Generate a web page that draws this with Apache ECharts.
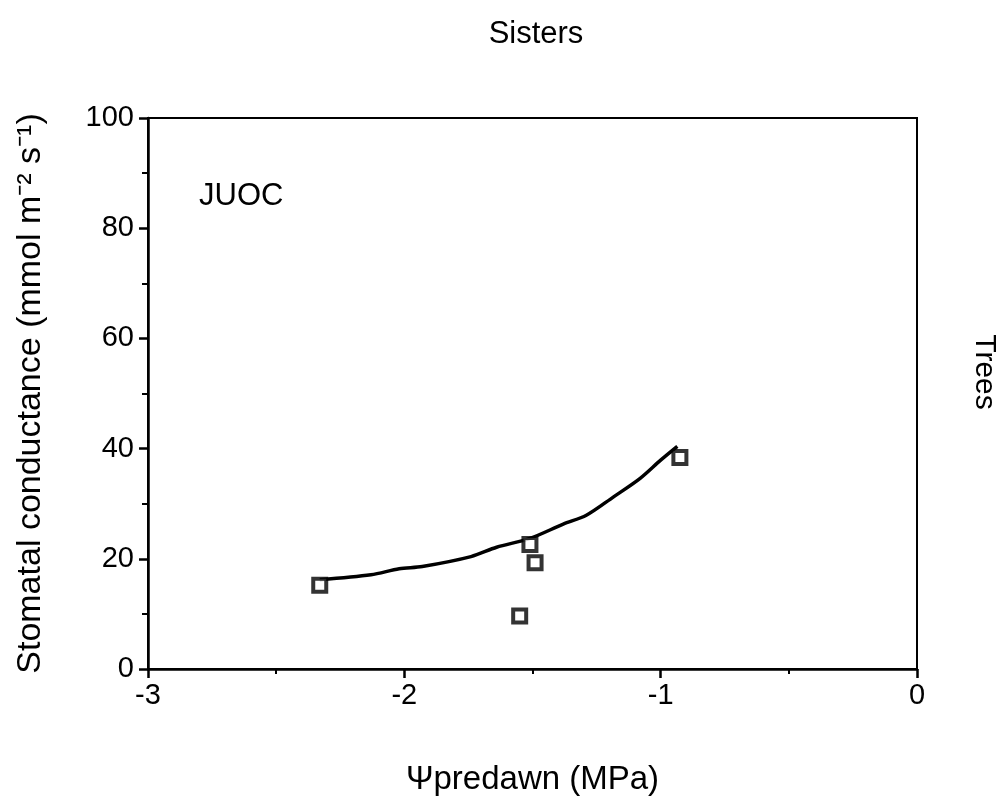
<!DOCTYPE html>
<html>
<head>
<meta charset="utf-8">
<script src="https://cdn.jsdelivr.net/npm/echarts@6/dist/echarts.min.js"></script>
<style>html,body{margin:0;padding:0;background:#fff}#c{width:1008px;height:805px}</style>
</head>
<body>
<div id="c"></div>
<script>
// Observed points (Ψpredawn, conductance)
const obsX = [-2.33, -1.51, -1.49, -1.55, -0.925];
const obsY = [15.2, 22.6, 19.3, 9.6, 38.4];
// Fitted curve
const fitX = [-2.33, -2.13, -2.02, -1.93, -1.74, -1.64, -1.51, -1.38, -1.29, -1.185, -1.08, -1.0, -0.935];
const fitY = [16.2, 17.1, 18.2, 18.6, 20.4, 22.1, 23.7, 26.3, 27.9, 31.2, 34.6, 37.9, 40.4];
const xTicks = [-3, -2, -1, 0];
const yTicks = [0, 20, 40, 60, 80, 100];

const F = 'Liberation Sans, Arial, Helvetica, sans-serif';
const chart = echarts.init(document.getElementById('c'));
chart.setOption({
  animation: false,
  backgroundColor: '#fff',
  textStyle: {fontFamily: F, color: '#000'},
  title: {
    text: 'Sisters', left: 531, top: 14, textAlign: 'center',
    textStyle: {fontFamily: F, fontSize: 31, fontWeight: 'normal', color: '#000'}
  },
  grid: {left: 148, top: 118, right: 91, bottom: 136, show: true, borderColor: '#000', borderWidth: 2, backgroundColor: 'transparent'},
  graphic: [
    {type: 'text', left: 199, top: 181, style: {text: 'JUOC', font: '31px ' + F, fill: '#000'}},
    {type: 'text', x: 984, y: 372, rotation: -Math.PI / 2, style: {text: 'Trees', font: '30px ' + F, fill: '#000', align: 'center', verticalAlign: 'middle'}}
  ],
  xAxis: {
    type: 'value', min: -3, max: 0, interval: 1,
    axisLine: {onZero: false, lineStyle: {color: '#000', width: 2.5}},
    axisTick: {length: 9, lineStyle: {color: '#000', width: 2.5}},
    minorTick: {show: true, splitNumber: 2, length: 5, lineStyle: {color: '#000', width: 2}},
    splitLine: {show: false},
    axisLabel: {fontSize: 29, color: '#000', margin: 12, fontFamily: F, formatter: v => xTicks.includes(v) ? String(v) : ''},
    name: 'Ψpredawn (MPa)', nameLocation: 'middle', nameGap: 94,
    nameTextStyle: {fontSize: 33, color: '#000', fontFamily: F}
  },
  yAxis: {
    type: 'value', min: 0, max: 100, interval: 20,
    axisLine: {onZero: false, lineStyle: {color: '#000', width: 2.5}},
    axisTick: {length: 9, lineStyle: {color: '#000', width: 2.5}},
    minorTick: {show: true, splitNumber: 2, length: 6, lineStyle: {color: '#000', width: 2}},
    splitLine: {show: false},
    axisLabel: {fontSize: 29, color: '#000', margin: 14, fontFamily: F, formatter: v => yTicks.includes(v) ? String(v) : ''},
    name: 'Stomatal conductance (mmol m⁻² s⁻¹)', nameLocation: 'middle', nameGap: 100,
    nameTextStyle: {fontSize: 34, color: '#000', fontFamily: F}
  },
  series: [
    {
      type: 'line', data: fitX.map((x, i) => [x, fitY[i]]), smooth: 0.3, showSymbol: false,
      lineStyle: {color: '#000', width: 3.5}, z: 2
    },
    {
      type: 'scatter', data: obsX.map((x, i) => [x, obsY[i]]), symbol: 'rect', symbolSize: 13,
      itemStyle: {color: '#fff', borderColor: '#000', borderWidth: 4}, z: 3
    }
  ]
});
</script>
</body>
</html>
